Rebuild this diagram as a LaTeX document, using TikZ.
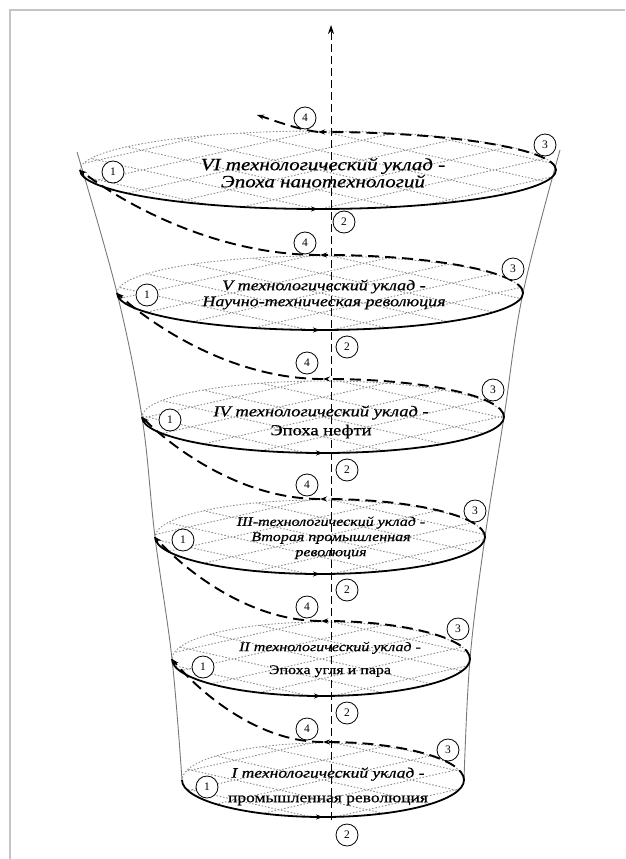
\documentclass[tikz,border=0pt]{standalone}
\usepackage{fontspec}
\setmainfont{Liberation Serif}
\newfontfamily\lvfont[FakeBold=0.6]{Liberation Serif}
\usetikzlibrary{arrows.meta,decorations.markings}
\definecolor{framegray}{RGB}{195,195,200}
\definecolor{conegray}{RGB}{120,120,120}
\definecolor{gridgray}{RGB}{140,140,140}
\newcommand{\lvtext}[3]{\scalebox{1}[0.82]{\fontsize{#1}{#2}\selectfont\lvfont\begin{tabular}{@{}c@{}}#3\end{tabular}}}
\tikzset{
  framestyle/.style={draw=framegray,line width=2pt},
  conestyle/.style={draw=conegray,line width=0.9pt},
  axisstyle/.style={draw=black,line width=1pt,dash pattern=on 8pt off 4pt,-{Stealth[length=9pt,width=6pt]}},
  griddot/.style={draw=gridgray,line width=0.9pt,dash pattern=on 1.5pt off 1.8pt},
  frontarc/.style={draw=black,line width=1.8pt,
    decoration={markings,mark=at position 0.5 with {\arrow{Stealth[length=7pt,width=5pt]}}},
    postaction={decorate}},
  spiralback/.style={draw=black,line width=1.9pt,dash pattern=on 11pt off 6pt,-{Stealth[length=7pt,width=5pt]}},
  numcirc/.style={circle,draw=black,line width=0.8pt,fill=white,minimum size=22pt,inner sep=0pt,font=\fontsize{11.5}{11.5}\selectfont},
  leveltext/.style={inner sep=0pt,text=black}
}
\begin{document}
\begin{tikzpicture}[x=1pt,y=-1pt]
\useasboundingbox (0,0) rectangle (625,859);
% frame
\coordinate (FB) at (10,859);
\coordinate (FC) at (10,10);
\coordinate (FR) at (625,10);
\draw[framestyle] (FB) -- (FC) -- (FR);

% level ellipses: index / xc / yc / a / b
\foreach \i/\xc/\yc/\a/\b in {1/323/780/141/37,2/321/659/149/37,3/320/537/165/37,4/323/417/181/36,5/320/293/203/37,6/318/170/238/39}{
  \coordinate (L\i) at ({\xc-\a},\yc);
  \coordinate (R\i) at ({\xc+\a},\yc);
  \coordinate (C\i) at (\xc,\yc);
  \begin{scope}
    \clip (C\i) ellipse [x radius=\a, y radius=\b];
    \foreach \k in {-5,...,5}{
      \draw[griddot] ({\xc+\k*88-320},{\yc-72}) -- ({\xc+\k*88+320},{\yc+72});
      \draw[griddot] ({\xc+\k*88-320},{\yc+72}) -- ({\xc+\k*88+320},{\yc-72});
    }
  \end{scope}
  \draw[griddot] (R\i) arc[start angle=0,end angle=-180,x radius=\a,y radius=\b];
}

% texts
\node[leveltext] (T6) at (323,175) {\lvtext{21}{19.5}{\itshape VI технологический уклад -\\\itshape Эпоха нанотехнологий}};
\node[leveltext] (T5) at (324,295) {\lvtext{18}{19.5}{\itshape V технологический уклад -\\\itshape Научно-техническая революция}};
\node[leveltext] (T4) at (321,422) {\lvtext{18.5}{23}{\itshape IV технологический уклад -\\Эпоха нефти}};
\node[leveltext] (T3) at (331,538) {\lvtext{16}{18.5}{\itshape III-технологический уклад -\\\itshape Вторая промышленная\\\itshape революция}};
\node[leveltext] (T2) at (330,658) {\lvtext{16}{28}{\itshape II технологический уклад -\\Эпоха угля и пара}};
\node[leveltext] (T1) at (328,785) {\lvtext{17.5}{30}{\itshape I технологический уклад -\\промышленная революция}};

% cone
\draw[conestyle] plot[smooth,tension=0.6] coordinates {(77,152) (117,293) (142,417) (155,537) (172,659) (182,780)};
\draw[conestyle] plot[smooth,tension=0.6] coordinates {(560,150) (523,293) (504,417) (485,537) (470,659) (464,780)};

% axis
\coordinate (AxB) at (331,820);
\coordinate (AxT) at (331,25);
\draw[axisstyle] (AxB) -- (AxT);

% front solid halves
\foreach \i/\xc/\yc/\a/\b in {1/323/780/141/37,2/321/659/149/37,3/320/537/165/37,4/323/417/181/36,5/320/293/203/37,6/318/170/238/39}{
  \draw[frontarc] (L\i) arc[start angle=180,end angle=0,x radius=\a,y radius=\b];
}

% spiral back parts
\foreach \i/\j/\xc/\yc/\a/\nl/\ny in {1/2/323/780/141/172/659,2/3/321/659/149/155/537,3/4/320/537/165/142/417,4/5/323/417/181/117/293,5/6/320/293/203/80/170}{
  \draw[spiralback] (R\i) arc[start angle=0,end angle=-90,x radius=\a,y radius=38] coordinate (B\i);
  \draw[spiralback] (B\i) .. controls ({\xc-0.46*(\xc-\nl)},{\yc-38}) and ({\nl+0.15*(\xc-\nl)},{\ny+0.33*(\yc-38-\ny)}) .. (L\j);
}
\coordinate (TopEnd) at (257,115);
\draw[spiralback] (R6) arc[start angle=0,end angle=-90,x radius=238,y radius=38] coordinate (B6);
\draw[spiralback] (B6) .. controls (296,129) and (276,121) .. (TopEnd);

% numbered circles
\foreach \n/\p in {a/{113,172},b/{147,295},c/{170,420},d/{183,540},e/{203,667},f/{207,787}}{
  \node[numcirc] (one\n) at (\p) {1};
}
\foreach \n/\p in {a/{344,222},b/{347,347},c/{347,470},d/{347,590},e/{347,713},f/{347,835}}{
  \node[numcirc] (two\n) at (\p) {2};
}
\foreach \n/\p in {a/{545,145},b/{513,269},c/{493,390},d/{475,511},e/{458,629},f/{448,750}}{
  \node[numcirc] (three\n) at (\p) {3};
}
\foreach \n/\p in {a/{305,118},b/{305,243},c/{307,363},d/{307,485},e/{307,607},f/{307,729}}{
  \node[numcirc] (four\n) at (\p) {4};
}
\end{tikzpicture}
\end{document}
